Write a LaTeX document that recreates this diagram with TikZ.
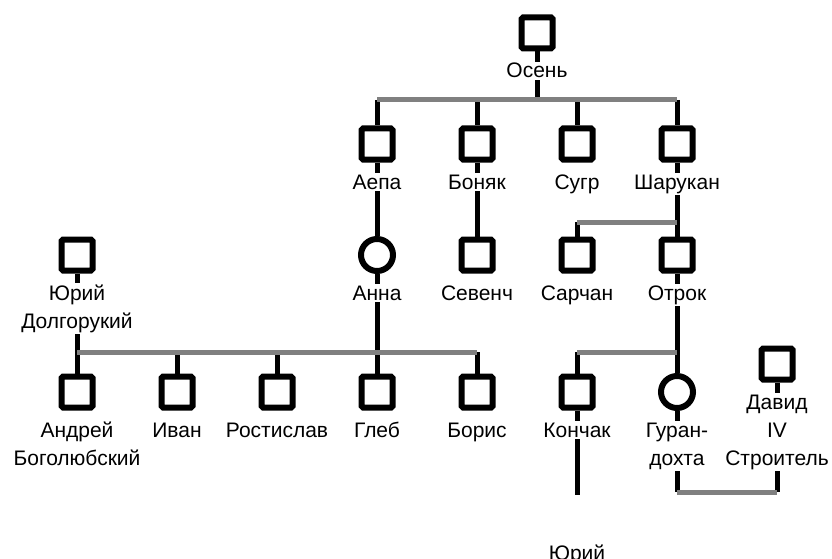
\documentclass[tikz,border=0pt]{standalone}
\usepackage{fontspec}
\setmainfont{Liberation Sans}
\usetikzlibrary{positioning, backgrounds}

\begin{document}
\begin{tikzpicture}
    [
        node distance=111pt and 100pt, on grid,
        male_node/.style={rectangle, draw=black, fill=white, line width=6pt, rounded corners=1.5pt, minimum size=31pt},
        female_node/.style={circle, draw=black, fill=white, line width=6pt, minimum size=32pt},
        name_node/.style={fill=white, inner sep=1.5pt, align=center, font=\fontsize{21}{28}\selectfont},
        kin_line/.style={line width=5pt, color=black},
        bar_line/.style={line width=5pt, color=black!50},
    ]
        \useasboundingbox (0pt,0pt) rectangle (832pt,-559pt);
        \clip (0pt,0pt) rectangle (832pt,-559pt);
        \node[male_node] (osen) at (537pt,-33pt) {};
        \node[male_node] (aepa) [below left = 111pt and 160pt of osen] {};
        \node[male_node] (bonyak) [right = of aepa] {};
        \node[male_node] (sugr) [right = of bonyak] {};
        \node[male_node] (sharukan) [right = of sugr] {};
        \node[female_node] (anna) [below = of aepa] {};
        \node[male_node] (sevench) [below = of bonyak] {};
        \node[male_node] (sarchan) [below = of sugr] {};
        \node[male_node] (otrok) [below = of sharukan] {};
        \node[male_node] (yuri_d) [left = 300pt of anna] {};
        \node[male_node] (andrey) [below = 137pt of yuri_d] {};
        \node[male_node] (ivan) [right = of andrey] {};
        \node[male_node] (rostislav) [right = of ivan] {};
        \node[male_node] (gleb) [right = of rostislav] {};
        \node[male_node] (boris) [right = of gleb] {};
        \node[male_node] (konchak) [right = of boris] {};
        \node[female_node] (gurandokhta) [right = of konchak] {};
        \node[male_node] (david) [above right = 28pt and 100pt of gurandokhta] {};

        \node[name_node] (osen_name) [below = 45pt of osen, anchor=base] {Осень};
        \node[name_node] (aepa_name) [below = 45pt of aepa, anchor=base] {Аепа};
        \node[name_node] (bonyak_name) [below = 45pt of bonyak, anchor=base] {Боняк};
        \node[name_node] (sugr_name) [below = 45pt of sugr, anchor=base] {Сугр};
        \node[name_node] (sharukan_name) [below = 45pt of sharukan, anchor=base] {Шарукан};
        \node[name_node] (anna_name) [below = 45pt of anna, anchor=base] {Анна};
        \node[name_node] (sevench_name) [below = 45pt of sevench, anchor=base] {Севенч};
        \node[name_node] (sarchan_name) [below = 45pt of sarchan, anchor=base] {Сарчан};
        \node[name_node] (otrok_name) [below = 45pt of otrok, anchor=base] {Отрок};
        \node[name_node] (yuri_d_name) [below = 73pt of yuri_d, anchor=base] {Юрий\\Долгорукий};
        \node[name_node] (andrey_name) [below = 73pt of andrey, anchor=base] {Андрей\\Боголюбский};
        \node[name_node] (ivan_name) [below = 45pt of ivan, anchor=base] {Иван};
        \node[name_node] (rostislav_name) [below = 45pt of rostislav, anchor=base] {Ростислав};
        \node[name_node] (gleb_name) [below = 45pt of gleb, anchor=base] {Глеб};
        \node[name_node] (boris_name) [below = 45pt of boris, anchor=base] {Борис};
        \node[name_node] (konchak_name) [below = 45pt of konchak, anchor=base] {Кончак};
        \node[name_node] (gurandokhta_name) [below = 73pt of gurandokhta, anchor=base] {Гуран-\\дохта};
        \node[name_node] (david_name) [below = 101pt of david, anchor=base] {Давид\\IV\\Строитель};
        \node[name_node] (yuri_k_name) [below = 168pt of konchak, anchor=base] {Юрий};

        \coordinate[below = 67pt of osen] (osen_bar);
        \coordinate[below = 78pt of sharukan] (sharukan_bar);
        \coordinate[below = 97pt of yuri_d] (yuri_d_bar);
        \coordinate[below = 97pt of otrok] (otrok_bar);
        \coordinate[below = 100pt of gurandokhta] (marriage_bar);
        \coordinate[below = 103pt of konchak] (konchak_end);

        \begin{scope}[on background layer]
        \draw[kin_line] (osen) -- (osen_bar) ;
        \draw[kin_line] (aepa |- osen_bar) -- (aepa) ;
        \draw[kin_line] (bonyak |- osen_bar) -- (bonyak) ;
        \draw[kin_line] (sugr |- osen_bar) -- (sugr) ;
        \draw[kin_line] (sharukan |- osen_bar) -- (sharukan) ;
        \draw[kin_line] (aepa) -- (anna) ;
        \draw[kin_line] (bonyak) -- (sevench) ;
        \draw[kin_line] (sharukan) -- (otrok) ;
        \draw[kin_line] (sarchan |- sharukan_bar) -- (sarchan) ;
        \draw[kin_line] (yuri_d) -- (andrey) ;
        \draw[kin_line] (ivan |- yuri_d_bar) -- (ivan) ;
        \draw[kin_line] (rostislav |- yuri_d_bar) -- (rostislav) ;
        \draw[kin_line] (boris |- yuri_d_bar) -- (boris) ;
        \draw[kin_line] (anna) -- (gleb) ;
        \draw[kin_line] (otrok) -- (gurandokhta) ;
        \draw[kin_line] (konchak |- otrok_bar) -- (konchak) ;
        \draw[kin_line] (konchak) -- (konchak_end) ;
        \draw[kin_line] (gurandokhta) -- (marriage_bar) ;
        \draw[kin_line] (david) -- (david |- marriage_bar) ;
        \draw[bar_line] (aepa |- osen_bar) -- (sharukan |- osen_bar) ;
        \draw[bar_line] (sarchan |- sharukan_bar) -- (otrok |- sharukan_bar) ;
        \draw[bar_line] (andrey |- yuri_d_bar) -- (boris |- yuri_d_bar) ;
        \draw[bar_line] (konchak |- otrok_bar) -- (otrok_bar) ;
        \draw[bar_line] (marriage_bar) -- (david |- marriage_bar) ;
        \end{scope}
    \end{tikzpicture}
\end{document}
